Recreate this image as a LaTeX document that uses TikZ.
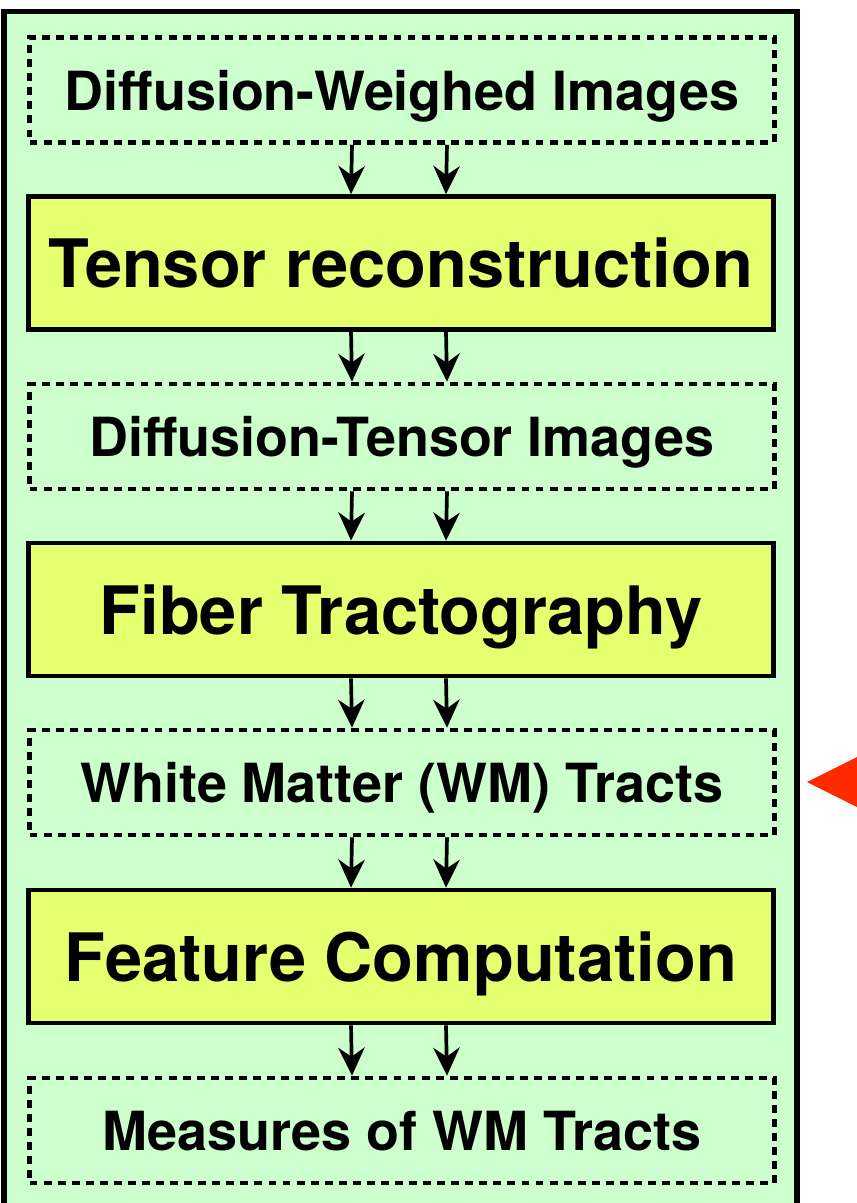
\documentclass[tikz,border=0pt]{standalone}
\usepackage{fontspec}
\setmainfont{TeX Gyre Heros}
\usetikzlibrary{arrows.meta}

\definecolor{panelgreen}{RGB}{204,255,204}
\definecolor{stageyellow}{RGB}{230,255,110}
\definecolor{markred}{RGB}{255,42,0}

\begin{document}
\begin{tikzpicture}[x=0.02cm,y=-0.02cm,
    databox/.style={draw, line width=2.6pt, dash pattern=on 4.5pt off 3.5pt,
        minimum width=14.9cm, minimum height=2.1cm, inner sep=0pt,
        text depth=0pt, font=\fontsize{30.7}{33}\selectfont\bfseries},
    stagebox/.style={draw, fill=stageyellow, line width=2.7pt,
        minimum width=14.9cm, minimum height=2.66cm, inner sep=0pt,
        text depth=0pt, font=\fontsize{38}{42}\selectfont\bfseries},
    flow/.style={line width=2.1pt, -{Stealth[length=16pt,width=15pt]}}]
    \useasboundingbox (0,0) rectangle (857,1203);

    % background panel
    \fill[panelgreen] (4,11.5) rectangle (797,1203);
    \draw[line width=2.9pt] (4,1203) -- (4,11.5) -- (797,11.5) -- (797,1203);

    \node[databox] (dwi) at (402,90) {Diffusion-Weighed Images};
    \node[stagebox] (tensor) at (401,263) {Tensor reconstruction};
    \node[databox] (dti) at (402,436.5) {Diffusion-Tensor Images};
    \node[stagebox] (fiber) at (401,609.5) {Fiber Tractography};
    \node[databox] (tracts) at (402,782.5) {White Matter (WM) Tracts};
    \node[stagebox] (feature) at (401,956.5) {Feature Computation};
    \node[databox] (measures) at (402,1130.5) {Measures of WM Tracts};

    % double arrows between stages
    \foreach \from/\to in {dwi/tensor, tensor/dti, dti/fiber, fiber/tracts,
                           tracts/feature, feature/measures}
    {
        \draw[flow] ([xshift=-1cm]\from.south) -- ([xshift=-1cm]\to.north);
        \draw[flow] ([xshift=0.9cm]\from.south) -- ([xshift=0.9cm]\to.north);
    }

    % pointer
    \fill[markred] (807,782) -- (857,757) -- (857,807) -- cycle;
\end{tikzpicture}
\end{document}
